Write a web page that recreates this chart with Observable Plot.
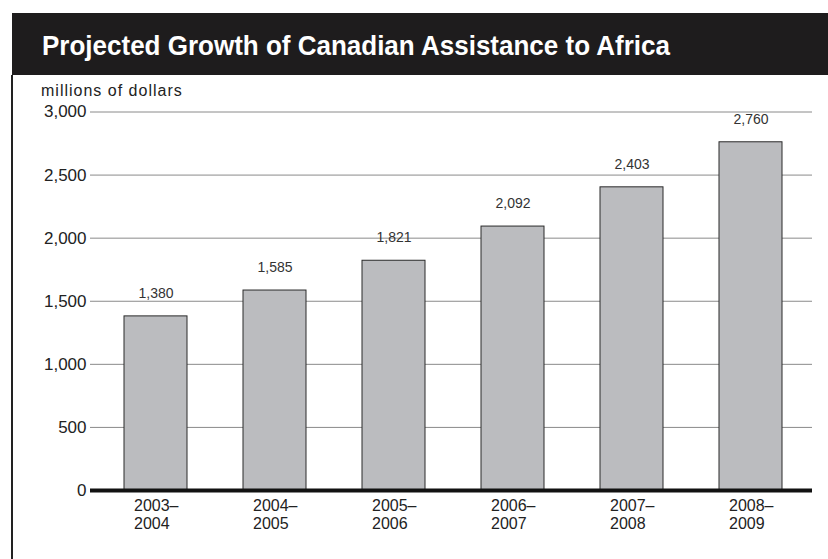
<!DOCTYPE html>
<html><head><meta charset="utf-8">
<script src="https://cdn.jsdelivr.net/npm/d3@7"></script>
<script src="https://cdn.jsdelivr.net/npm/@observablehq/plot@0.6"></script>
<style>
html,body{margin:0;padding:0;background:#fff;width:828px;height:559px;overflow:hidden;position:relative;font-family:"Liberation Sans",Arial,sans-serif;}
#bar{position:absolute;left:12px;top:13px;width:816px;height:62px;background:#1e1c1d;}
#title{position:absolute;left:29.5px;top:18.7px;color:#fff;font-family:"Liberation Sans",Arial,sans-serif;font-weight:bold;font-size:28px;line-height:1;white-space:nowrap;transform-origin:0 0;}
#border{position:absolute;left:11px;top:75px;width:1.5px;height:484px;background:#222;}
#unit{position:absolute;left:41px;top:83px;font-size:16px;line-height:1;letter-spacing:1px;color:#222;white-space:nowrap;}
#chart{position:absolute;left:0;top:95px;}
</style></head>
<body>
<div id="bar"><div id="title">Projected Growth of Canadian Assistance to Africa</div></div>
<div id="border"></div>
<div id="unit">millions of dollars</div>
<div id="chart"></div>
<script>
const years = ["2003–2004","2004–2005","2005–2006","2006–2007","2007–2008","2008–2009"];
const yearLabels = ["2003–\n2004","2004–\n2005","2005–\n2006","2006–\n2007","2007–\n2008","2008–\n2009"];
const values = [1380, 1585, 1821, 2092, 2403, 2760];
const yTicks = [0, 500, 1000, 1500, 2000, 2500, 3000];

const data = years.map((y, i) => ({year: y, value: values[i]}));
const fmt = d3.format(",");

const chart = Plot.plot({
  width: 828,
  height: 464,
  marginLeft: 90,
  marginRight: 16,
  marginTop: 16.5,
  marginBottom: 69,
  style: {fontFamily: "'Liberation Sans', Arial, sans-serif", background: "transparent", color: "#222"},
  x: {domain: years, range: [96, 811], paddingInner: 0.47, paddingOuter: 0.235},
  y: {domain: [0, 3000]},
  marks: [
    Plot.ruleY(yTicks.filter(d => d > 0), {stroke: "#8a8a8a", strokeWidth: 1}),
    Plot.barY(data, {x: "year", y: "value", fill: "#bbbcbf", stroke: "#2a2a2a", strokeWidth: 1}),
    Plot.text(data, {x: "year", y: "value", text: d => fmt(d.value), dy: -23, fontSize: 14, fill: "#333"}),
    Plot.ruleY([0], {stroke: "#111", strokeWidth: 4}),
    Plot.axisY({ticks: yTicks, tickSize: 0, tickPadding: 4, tickFormat: fmt, fontSize: 17, label: null}),
    Plot.axisX({tickSize: 0, tickPadding: 7, tickFormat: d => yearLabels[years.indexOf(d)], textAnchor: "start", dx: -22, fontSize: 16, lineHeight: 1.15, label: null})
  ]
});
document.getElementById("chart").appendChild(chart);

// fit the title to the reference width
const t = document.getElementById("title");
const w = t.getBoundingClientRect().width;
t.style.transform = `scaleX(${628 / w})`;
</script>
</body></html>
